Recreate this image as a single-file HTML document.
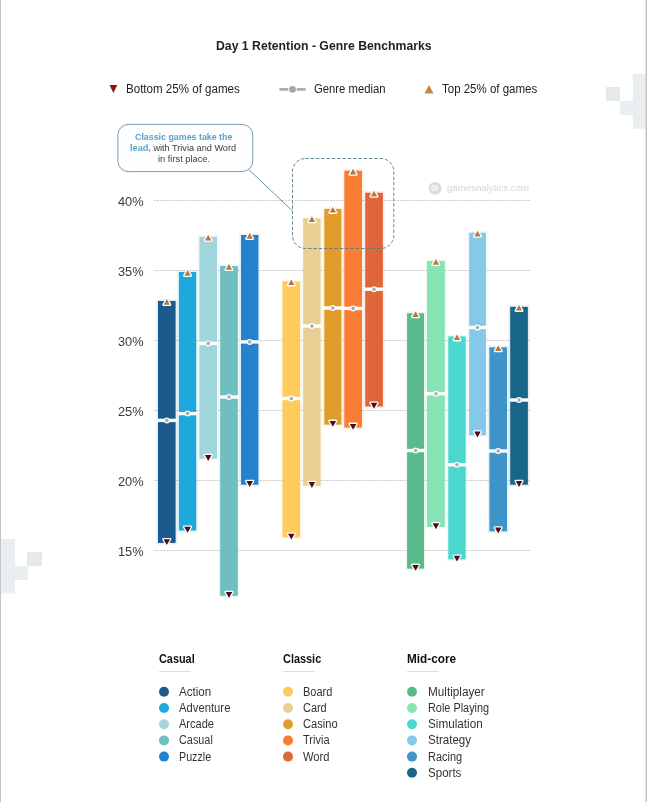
<!DOCTYPE html><html><head><meta charset="utf-8"><title>Day 1 Retention - Genre Benchmarks</title><style>
html,body{margin:0;padding:0;background:#fff}
body{width:647px;height:802px;position:relative;overflow:hidden;font-family:"Liberation Sans",sans-serif;color:#222}
.t{position:absolute;white-space:nowrap;line-height:1;transform-origin:0 0}
.title{font-size:13.4px;font-weight:bold;color:#1f1f1f}
.lg{font-size:12px;color:#222}
.ax{font-size:13px;color:#3a3a3a}
.h{font-size:12px;font-weight:bold;color:#111}
.i{font-size:12px;color:#333}
.wm{font-size:9.5px;color:#d3d5d6}
.co{font-size:8.7px;color:#3c3c3c}
.cb,.co b{font-weight:bold;color:#5e9fc4}
</style></head><body>
<svg width="647" height="802" viewBox="0 0 647 802" style="position:absolute;left:0;top:0">
<g fill="#e9eef0"><rect x="632.800" y="74" width="14.200" height="54.800"/><rect x="620" y="101" width="14" height="14"/><rect x="606" y="87" width="14" height="14" fill="#e4eaeb"/><rect x="0" y="539" width="15" height="54.500"/><rect x="15" y="566" width="13" height="14"/><rect x="27" y="552" width="15" height="14" fill="#e4eaeb"/></g>
<rect x="0" y="0" width="1" height="802" fill="#c4c4c4"/><rect x="645.5" y="0" width="1.5" height="802" fill="#c4c4c4"/>
<line x1="154" x2="530" y1="200.5" y2="200.5" stroke="#c8c8c8" stroke-width="1" stroke-dasharray="2 1.2"/>
<line x1="154" x2="530" y1="270.5" y2="270.5" stroke="#c8c8c8" stroke-width="1" stroke-dasharray="2 1.2"/>
<line x1="154" x2="530" y1="340.5" y2="340.5" stroke="#c8c8c8" stroke-width="1" stroke-dasharray="2 1.2"/>
<line x1="154" x2="530" y1="410.5" y2="410.5" stroke="#c8c8c8" stroke-width="1" stroke-dasharray="2 1.2"/>
<line x1="154" x2="530" y1="480.5" y2="480.5" stroke="#c8c8c8" stroke-width="1" stroke-dasharray="2 1.2"/>
<line x1="154" x2="530" y1="550.5" y2="550.5" stroke="#c8c8c8" stroke-width="1" stroke-dasharray="2 1.2"/>
<rect x="158.0" y="301.0" width="17.6" height="241.9" fill="#1c5a8e" stroke="#1c5a8e" stroke-opacity="0.11" stroke-width="3.400"/>
<rect x="178.9" y="272.0" width="17.3" height="258.5" fill="#1fa8dc" stroke="#1fa8dc" stroke-opacity="0.11" stroke-width="3.400"/>
<rect x="199.4" y="236.8" width="17.6" height="221.9" fill="#a0d6dc" stroke="#a0d6dc" stroke-opacity="0.11" stroke-width="3.400"/>
<rect x="220.2" y="266.1" width="17.6" height="329.7" fill="#6fbfc0" stroke="#6fbfc0" stroke-opacity="0.11" stroke-width="3.400"/>
<rect x="241.0" y="235.0" width="17.4" height="249.7" fill="#2483cc" stroke="#2483cc" stroke-opacity="0.11" stroke-width="3.400"/>
<rect x="282.5" y="281.4" width="17.6" height="256.0" fill="#fdcc5d" stroke="#fdcc5d" stroke-opacity="0.11" stroke-width="3.400"/>
<rect x="303.2" y="218.3" width="17.4" height="267.5" fill="#e9cf93" stroke="#e9cf93" stroke-opacity="0.11" stroke-width="3.400"/>
<rect x="324.3" y="208.9" width="17.0" height="215.7" fill="#e09c2a" stroke="#e09c2a" stroke-opacity="0.11" stroke-width="3.400"/>
<rect x="344.3" y="170.7" width="17.7" height="256.9" fill="#f97d35" stroke="#f97d35" stroke-opacity="0.11" stroke-width="3.400"/>
<rect x="365.2" y="192.8" width="17.7" height="213.7" fill="#e0663a" stroke="#e0663a" stroke-opacity="0.11" stroke-width="3.400"/>
<rect x="407.1" y="313.2" width="16.9" height="255.4" fill="#5bba8b" stroke="#5bba8b" stroke-opacity="0.11" stroke-width="3.400"/>
<rect x="427.0" y="261.0" width="17.8" height="266.0" fill="#86e3b4" stroke="#86e3b4" stroke-opacity="0.11" stroke-width="3.400"/>
<rect x="448.3" y="336.4" width="17.4" height="223.0" fill="#4bd7cf" stroke="#4bd7cf" stroke-opacity="0.11" stroke-width="3.400"/>
<rect x="469.2" y="232.7" width="16.7" height="202.6" fill="#85c8e8" stroke="#85c8e8" stroke-opacity="0.11" stroke-width="3.400"/>
<rect x="489.4" y="347.3" width="17.6" height="184.0" fill="#3f94c9" stroke="#3f94c9" stroke-opacity="0.11" stroke-width="3.400"/>
<rect x="510.2" y="306.9" width="17.7" height="177.8" fill="#19668b" stroke="#19668b" stroke-opacity="0.11" stroke-width="3.400"/>
<rect x="156.8" y="418.7" width="20.0" height="3.4" fill="#fff"/>
<circle cx="166.8" cy="420.4" r="3.0" fill="#fff"/><circle cx="166.8" cy="420.4" r="1.8" fill="#a3aeb0"/>
<path d="M166.8 299.0L170.0 304.7L163.6 304.7Z" fill="#b9773f" stroke="#fff" stroke-width="2.6" stroke-linejoin="round" paint-order="stroke"/>
<path d="M166.8 545.1L170.1 539.2L163.5 539.2Z" fill="#4c0d18" stroke="#fff" stroke-width="2.6" stroke-linejoin="round" paint-order="stroke"/>
<rect x="177.7" y="411.9" width="19.7" height="3.4" fill="#fff"/>
<circle cx="187.6" cy="413.6" r="3.0" fill="#fff"/><circle cx="187.6" cy="413.6" r="1.8" fill="#a3aeb0"/>
<path d="M187.6 270.0L190.8 275.7L184.4 275.7Z" fill="#b9773f" stroke="#fff" stroke-width="2.6" stroke-linejoin="round" paint-order="stroke"/>
<path d="M187.6 532.7L190.9 526.8L184.2 526.8Z" fill="#4c0d18" stroke="#fff" stroke-width="2.6" stroke-linejoin="round" paint-order="stroke"/>
<rect x="198.2" y="341.7" width="20.0" height="3.4" fill="#fff"/>
<circle cx="208.2" cy="343.4" r="3.0" fill="#fff"/><circle cx="208.2" cy="343.4" r="1.8" fill="#a3aeb0"/>
<path d="M208.2 234.8L211.4 240.5L205.0 240.5Z" fill="#b9773f" stroke="#fff" stroke-width="2.6" stroke-linejoin="round" paint-order="stroke"/>
<path d="M208.2 460.9L211.5 455.0L204.9 455.0Z" fill="#4c0d18" stroke="#fff" stroke-width="2.6" stroke-linejoin="round" paint-order="stroke"/>
<rect x="219.0" y="395.3" width="20.0" height="3.4" fill="#fff"/>
<circle cx="229.0" cy="397.0" r="3.0" fill="#fff"/><circle cx="229.0" cy="397.0" r="1.8" fill="#a3aeb0"/>
<path d="M229.0 264.1L232.2 269.8L225.8 269.8Z" fill="#b9773f" stroke="#fff" stroke-width="2.6" stroke-linejoin="round" paint-order="stroke"/>
<path d="M229.0 598.0L232.3 592.1L225.7 592.1Z" fill="#4c0d18" stroke="#fff" stroke-width="2.6" stroke-linejoin="round" paint-order="stroke"/>
<rect x="239.8" y="340.2" width="19.8" height="3.4" fill="#fff"/>
<circle cx="249.7" cy="341.9" r="3.0" fill="#fff"/><circle cx="249.7" cy="341.9" r="1.8" fill="#a3aeb0"/>
<path d="M249.7 233.0L252.9 238.7L246.5 238.7Z" fill="#b9773f" stroke="#fff" stroke-width="2.6" stroke-linejoin="round" paint-order="stroke"/>
<path d="M249.7 486.9L253.0 481.0L246.4 481.0Z" fill="#4c0d18" stroke="#fff" stroke-width="2.6" stroke-linejoin="round" paint-order="stroke"/>
<rect x="281.3" y="396.8" width="20.0" height="3.4" fill="#fff"/>
<circle cx="291.3" cy="398.5" r="3.0" fill="#fff"/><circle cx="291.3" cy="398.5" r="1.8" fill="#a3aeb0"/>
<path d="M291.3 279.4L294.5 285.1L288.1 285.1Z" fill="#b9773f" stroke="#fff" stroke-width="2.6" stroke-linejoin="round" paint-order="stroke"/>
<path d="M291.3 539.6L294.6 533.7L288.0 533.7Z" fill="#4c0d18" stroke="#fff" stroke-width="2.6" stroke-linejoin="round" paint-order="stroke"/>
<rect x="302.0" y="324.3" width="19.8" height="3.4" fill="#fff"/>
<circle cx="311.9" cy="326.0" r="3.0" fill="#fff"/><circle cx="311.9" cy="326.0" r="1.8" fill="#a3aeb0"/>
<path d="M311.9 216.3L315.1 222.0L308.7 222.0Z" fill="#b9773f" stroke="#fff" stroke-width="2.6" stroke-linejoin="round" paint-order="stroke"/>
<path d="M311.9 488.0L315.2 482.1L308.6 482.1Z" fill="#4c0d18" stroke="#fff" stroke-width="2.6" stroke-linejoin="round" paint-order="stroke"/>
<rect x="323.1" y="306.3" width="19.4" height="3.4" fill="#fff"/>
<circle cx="332.8" cy="308.0" r="3.0" fill="#fff"/><circle cx="332.8" cy="308.0" r="1.8" fill="#a3aeb0"/>
<path d="M332.8 206.9L336.0 212.6L329.6 212.6Z" fill="#b9773f" stroke="#fff" stroke-width="2.6" stroke-linejoin="round" paint-order="stroke"/>
<path d="M332.8 426.8L336.1 420.9L329.5 420.9Z" fill="#4c0d18" stroke="#fff" stroke-width="2.6" stroke-linejoin="round" paint-order="stroke"/>
<rect x="343.1" y="306.7" width="20.1" height="3.4" fill="#fff"/>
<circle cx="353.1" cy="308.4" r="3.0" fill="#fff"/><circle cx="353.1" cy="308.4" r="1.8" fill="#a3aeb0"/>
<path d="M353.1 168.7L356.3 174.4L349.9 174.4Z" fill="#b9773f" stroke="#fff" stroke-width="2.6" stroke-linejoin="round" paint-order="stroke"/>
<path d="M353.1 429.8L356.4 423.9L349.8 423.9Z" fill="#4c0d18" stroke="#fff" stroke-width="2.6" stroke-linejoin="round" paint-order="stroke"/>
<rect x="364.0" y="287.5" width="20.1" height="3.4" fill="#fff"/>
<circle cx="374.0" cy="289.2" r="3.0" fill="#fff"/><circle cx="374.0" cy="289.2" r="1.8" fill="#a3aeb0"/>
<path d="M374.0 190.8L377.2 196.5L370.8 196.5Z" fill="#b9773f" stroke="#fff" stroke-width="2.6" stroke-linejoin="round" paint-order="stroke"/>
<path d="M374.0 408.7L377.3 402.8L370.7 402.8Z" fill="#4c0d18" stroke="#fff" stroke-width="2.6" stroke-linejoin="round" paint-order="stroke"/>
<rect x="405.9" y="448.8" width="19.3" height="3.4" fill="#fff"/>
<circle cx="415.6" cy="450.5" r="3.0" fill="#fff"/><circle cx="415.6" cy="450.5" r="1.8" fill="#a3aeb0"/>
<path d="M415.6 311.2L418.8 316.9L412.4 316.9Z" fill="#b9773f" stroke="#fff" stroke-width="2.6" stroke-linejoin="round" paint-order="stroke"/>
<path d="M415.6 570.8L418.9 564.9L412.2 564.9Z" fill="#4c0d18" stroke="#fff" stroke-width="2.6" stroke-linejoin="round" paint-order="stroke"/>
<rect x="425.8" y="392.0" width="20.2" height="3.4" fill="#fff"/>
<circle cx="435.9" cy="393.7" r="3.0" fill="#fff"/><circle cx="435.9" cy="393.7" r="1.8" fill="#a3aeb0"/>
<path d="M435.9 259.0L439.1 264.7L432.7 264.7Z" fill="#b9773f" stroke="#fff" stroke-width="2.6" stroke-linejoin="round" paint-order="stroke"/>
<path d="M435.9 529.2L439.2 523.3L432.6 523.3Z" fill="#4c0d18" stroke="#fff" stroke-width="2.6" stroke-linejoin="round" paint-order="stroke"/>
<rect x="447.1" y="463.0" width="19.8" height="3.4" fill="#fff"/>
<circle cx="457.0" cy="464.7" r="3.0" fill="#fff"/><circle cx="457.0" cy="464.7" r="1.8" fill="#a3aeb0"/>
<path d="M457.0 334.4L460.2 340.1L453.8 340.1Z" fill="#b9773f" stroke="#fff" stroke-width="2.6" stroke-linejoin="round" paint-order="stroke"/>
<path d="M457.0 561.6L460.3 555.7L453.7 555.7Z" fill="#4c0d18" stroke="#fff" stroke-width="2.6" stroke-linejoin="round" paint-order="stroke"/>
<rect x="468.0" y="325.8" width="19.1" height="3.4" fill="#fff"/>
<circle cx="477.5" cy="327.5" r="3.0" fill="#fff"/><circle cx="477.5" cy="327.5" r="1.8" fill="#a3aeb0"/>
<path d="M477.5 230.7L480.7 236.4L474.3 236.4Z" fill="#b9773f" stroke="#fff" stroke-width="2.6" stroke-linejoin="round" paint-order="stroke"/>
<path d="M477.5 437.5L480.8 431.6L474.2 431.6Z" fill="#4c0d18" stroke="#fff" stroke-width="2.6" stroke-linejoin="round" paint-order="stroke"/>
<rect x="488.2" y="449.3" width="20.0" height="3.4" fill="#fff"/>
<circle cx="498.2" cy="451.0" r="3.0" fill="#fff"/><circle cx="498.2" cy="451.0" r="1.8" fill="#a3aeb0"/>
<path d="M498.2 345.3L501.4 351.0L495.0 351.0Z" fill="#b9773f" stroke="#fff" stroke-width="2.6" stroke-linejoin="round" paint-order="stroke"/>
<path d="M498.2 533.5L501.5 527.6L494.9 527.6Z" fill="#4c0d18" stroke="#fff" stroke-width="2.6" stroke-linejoin="round" paint-order="stroke"/>
<rect x="509.0" y="398.3" width="20.1" height="3.4" fill="#fff"/>
<circle cx="519.0" cy="400.0" r="3.0" fill="#fff"/><circle cx="519.0" cy="400.0" r="1.8" fill="#a3aeb0"/>
<path d="M519.0 304.9L522.2 310.6L515.8 310.6Z" fill="#b9773f" stroke="#fff" stroke-width="2.6" stroke-linejoin="round" paint-order="stroke"/>
<path d="M519.0 486.9L522.3 481.0L515.8 481.0Z" fill="#4c0d18" stroke="#fff" stroke-width="2.6" stroke-linejoin="round" paint-order="stroke"/>
<rect x="292.500" y="158.500" width="101.300" height="90" rx="13" ry="13" fill="none" stroke="#587a89" stroke-width="0.900" stroke-dasharray="3.400 1.900"/>
<line x1="248.700" y1="169.500" x2="292.500" y2="211" stroke="#6f94a6" stroke-width="1"/>
<rect x="117.900" y="124.400" width="134.800" height="47.200" rx="10.500" ry="10.500" fill="#fdfeff" stroke="#7a9dac" stroke-width="1"/>
<path d="M109.500 85L117.300 85L113.400 93Z" fill="#8e1214"/>
<path d="M429 85L433.500 93.500L424.500 93.500Z" fill="#c98445"/>
<rect x="279.300" y="88" width="26.400" height="2.800" rx="0.800" fill="#adadad"/><circle cx="292.500" cy="89.400" r="4.300" fill="#fff"/><circle cx="292.500" cy="89.400" r="3.300" fill="#a6a6a6"/>
<circle cx="435.100" cy="188.300" r="6.300" fill="#d8dadb"/><circle cx="433.300" cy="188.400" r="1.700" fill="none" stroke="#fff" stroke-width="1.100"/><rect x="436.300" y="186.200" width="1.500" height="4.400" rx="0.500" fill="#fff"/><rect x="431.600" y="185" width="6.200" height="1.100" rx="0.500" fill="#fff" opacity="0.700"/>
<rect x="159" y="671" width="31.500" height="1" fill="#eddfa8"/>
<circle cx="164.0" cy="691.8" r="5" fill="#1c5a8e"/>
<circle cx="164.0" cy="708.0" r="5" fill="#1fa8dc"/>
<circle cx="164.0" cy="724.2" r="5" fill="#a0d6dc"/>
<circle cx="164.0" cy="740.4" r="5" fill="#6fbfc0"/>
<circle cx="164.0" cy="756.6" r="5" fill="#2483cc"/>
<rect x="283" y="671" width="31.500" height="1" fill="#eddfa8"/>
<circle cx="288.0" cy="691.8" r="5" fill="#fdcc5d"/>
<circle cx="288.0" cy="708.0" r="5" fill="#e9cf93"/>
<circle cx="288.0" cy="724.2" r="5" fill="#e09c2a"/>
<circle cx="288.0" cy="740.4" r="5" fill="#f97d35"/>
<circle cx="288.0" cy="756.6" r="5" fill="#e0663a"/>
<rect x="407" y="671" width="31.500" height="1" fill="#eddfa8"/>
<circle cx="412.0" cy="691.8" r="5" fill="#5bba8b"/>
<circle cx="412.0" cy="708.0" r="5" fill="#86e3b4"/>
<circle cx="412.0" cy="724.2" r="5" fill="#4bd7cf"/>
<circle cx="412.0" cy="740.4" r="5" fill="#85c8e8"/>
<circle cx="412.0" cy="756.6" r="5" fill="#3f94c9"/>
<circle cx="412.0" cy="772.8" r="5" fill="#19668b"/>
</svg>
<div id="title" class="t title" style="left:216.2px;top:39.3px;transform:scaleX(0.9139);">Day 1 Retention - Genre Benchmarks</div>
<div id="lg1" class="t lg" style="left:125.6px;top:83.4px;transform:scaleX(0.9639);">Bottom 25% of games</div>
<div id="lg2" class="t lg" style="left:314.0px;top:83.4px;transform:scaleX(0.9415);">Genre median</div>
<div id="lg3" class="t lg" style="left:441.9px;top:83.4px;transform:scaleX(0.9577);">Top 25% of games</div>
<div id="co1" class="t co cb" style="left:135.0px;top:132.9px;transform:scaleX(1.0186);">Classic games take the</div>
<div id="co2" class="t co" style="left:130.3px;top:143.9px;transform:scaleX(1.0529);"><b>lead,</b> with Trivia and Word</div>
<div id="co3" class="t co" style="left:157.5px;top:154.9px;transform:scaleX(1.0663);">in first place.</div>
<div id="wm" class="t wm" style="left:447.1px;top:183.0px;transform:scaleX(1.0151);">gamesnalytics.com</div>
<div id="ax40" class="t ax" style="left:118.0px;top:194.6px;transform:scaleX(0.9834);">40%</div>
<div id="ax35" class="t ax" style="left:118.0px;top:264.6px;transform:scaleX(0.9834);">35%</div>
<div id="ax30" class="t ax" style="left:118.0px;top:334.6px;transform:scaleX(0.9834);">30%</div>
<div id="ax25" class="t ax" style="left:118.0px;top:404.6px;transform:scaleX(0.9834);">25%</div>
<div id="ax20" class="t ax" style="left:118.0px;top:474.6px;transform:scaleX(0.9834);">20%</div>
<div id="ax15" class="t ax" style="left:118.0px;top:544.6px;transform:scaleX(0.9834);">15%</div>
<div id="h0" class="t h" style="left:159.3px;top:653.0px;transform:scaleX(0.9070);">Casual</div>
<div id="i0" class="t i" style="left:179.0px;top:685.8px;transform:scaleX(0.9652);">Action</div>
<div id="i1" class="t i" style="left:179.0px;top:702.0px;transform:scaleX(0.9396);">Adventure</div>
<div id="i2" class="t i" style="left:179.0px;top:718.2px;transform:scaleX(0.9203);">Arcade</div>
<div id="i3" class="t i" style="left:179.0px;top:734.4px;transform:scaleX(0.9047);">Casual</div>
<div id="i4" class="t i" style="left:179.0px;top:750.6px;transform:scaleX(0.8937);">Puzzle</div>
<div id="h1" class="t h" style="left:282.7px;top:653.0px;transform:scaleX(0.9088);">Classic</div>
<div id="i5" class="t i" style="left:303.2px;top:685.8px;transform:scaleX(0.9147);">Board</div>
<div id="i6" class="t i" style="left:303.2px;top:702.0px;transform:scaleX(0.9110);">Card</div>
<div id="i7" class="t i" style="left:303.2px;top:718.2px;transform:scaleX(0.9261);">Casino</div>
<div id="i8" class="t i" style="left:303.2px;top:734.4px;transform:scaleX(0.9173);">Trivia</div>
<div id="i9" class="t i" style="left:303.2px;top:750.6px;transform:scaleX(0.9314);">Word</div>
<div id="h2" class="t h" style="left:407.1px;top:653.0px;transform:scaleX(0.9797);">Mid-core</div>
<div id="i10" class="t i" style="left:427.6px;top:685.8px;transform:scaleX(0.9771);">Multiplayer</div>
<div id="i11" class="t i" style="left:427.6px;top:702.0px;transform:scaleX(0.9069);">Role Playing</div>
<div id="i12" class="t i" style="left:427.6px;top:718.2px;transform:scaleX(0.9762);">Simulation</div>
<div id="i13" class="t i" style="left:427.6px;top:734.4px;transform:scaleX(0.9619);">Strategy</div>
<div id="i14" class="t i" style="left:427.6px;top:750.6px;transform:scaleX(0.9154);">Racing</div>
<div id="i15" class="t i" style="left:427.6px;top:766.8px;transform:scaleX(0.9629);">Sports</div>
</body></html>
